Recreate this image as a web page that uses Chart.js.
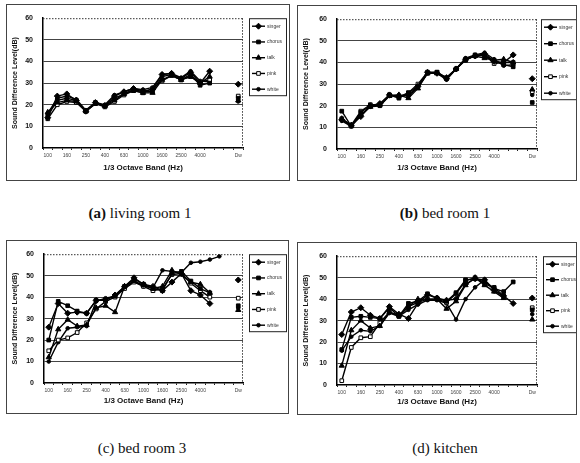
<!DOCTYPE html>
<html><head><meta charset="utf-8">
<script src="https://cdn.jsdelivr.net/npm/chart.js@4.4.0/dist/chart.umd.min.js"></script>
<style>
body{margin:0;background:#fff;width:580px;height:463px;position:relative;overflow:hidden;}
.frame{position:absolute;border:1px solid #444;box-sizing:border-box;}
canvas{position:absolute;}
.cap{position:absolute;font-family:'Liberation Serif','DejaVu Serif',serif;font-size:15px;line-height:20px;text-align:center;width:290px;color:#111;}
.cap b{font-weight:bold;}
</style></head><body>
<div class="frame" style="left:6px;top:4px;width:284px;height:177px"></div>
<div class="frame" style="left:297px;top:5px;width:280px;height:176px"></div>
<div class="frame" style="left:6px;top:240px;width:283px;height:174px"></div>
<div class="frame" style="left:297px;top:242px;width:280px;height:173px"></div>
<canvas id="ca"></canvas><canvas id="cb"></canvas><canvas id="cc"></canvas><canvas id="cd"></canvas>
<div class="cap" style="left:-5px;top:203px"><b>(a)</b> living room 1</div>
<div class="cap" style="left:300px;top:203px"><b>(b)</b> bed room 1</div>
<div class="cap" style="left:-3px;top:438px">(c) bed room 3</div>
<div class="cap" style="left:300px;top:438px">(d) kitchen</div>
<script>
// ---- data ----
const bands = ['100','125','160','200','250','315','400','500','630','800','1000','1250','1600','2000','2500','3150','4000','5000','','','Dw'];
const seriesNames = ['singer','chorus','talk','pink','white'];
const yTicks = [0,10,20,30,40,50,60];

// (a) living room 1
const a1 = [14,24,25,22,17,21,19.5,24,26,27.5,26.5,27,34,34.5,32,35,30,35.5];
const a2 = [15,22,23,22,17,21,19.5,23,25,27,26,26,33,34,31.5,34,29,30];
const a3 = [16.5,21,22,21.5,17,20.5,19.5,22,25,26.5,25.5,25.5,31.5,33.5,31.5,33,30,33];
const a4 = [13.5,20,21.5,21,17,20.5,19,21.5,24.5,26.5,25.5,27.5,31,33.5,31.5,33,30.5,31.5];
const a5 = [16,23,24,22.5,17.5,21,20,24.5,26,27.5,27,28,34,34.5,32.5,35.5,31,30.5];
const aSingle = [29.5,23,22,24,21.5];

// (b) bed room 1
const b1 = [13.5,11,15,20,21,25,24.5,25,29,35.5,35,32.5,37,41.5,43,44,40.5,40,43.5];
const b2 = [17.5,10.5,17,20,20,25,23.5,26,29,35,35.5,32.5,37,41,43.5,43,41,39,38];
const b3 = [14,11,16,19.5,20.5,24.5,25,23.5,28,35,35,33,37,41.5,43,42,41,41.5,40];
const b4 = [14,11,17.5,20.5,20.5,25,24,26,30,35.5,35.5,33,37,41.5,43,43.5,39.5,40,40];
const b5 = [13,10.5,15.5,19.5,20,24.5,25,24.5,28.5,35,35,32,37,42,43.5,44.5,41.5,38.5,39];
const bSingle = [32.5,21.5,27.5,26.5,25];

// (c) bed room 3
const c1 = [26,37,32.5,33,32.5,38.5,38.5,41,45,49,46,45,43,47,51,43,41,37];
const c2 = [20,38,36,33.5,32.5,38.5,39,40.5,45,48.5,46,44,43,51,52,47.5,44,42];
const c3 = [12,25,29.5,26.5,27,35,36,33,45,47.5,45.5,44,45,52.5,50.5,47,46,42];
const c4 = [15,20,21,23.5,28,34.5,38,40,44,47,45,43,44,50.5,51,46.5,43,40];
const c5 = [10,19,25.5,26,26.5,38,39.5,40.5,44.5,47.5,45,44.5,52.5,52,51.5,56,56.5,57.5,59];
const cSingle = [48,36,34,39.5,35];

// (d) kitchen
const d1 = [23.5,34,36,32.5,31,36.5,33,31,38,42,40.5,39.5,40,47,49.5,49,44,41.5,38];
const d2 = [16.5,31.5,32,31.5,31,36,32,38,39,42.5,40.5,39,43,49,49.5,48,45,43.5,48];
const d3 = [9,25.5,30,26.5,27.5,34,32.5,36.5,40,40,40,35.5,39,46.5,50,46.5,43.5,40.5];
const d4 = [2,17.5,22,22.5,29,34,32,36.5,38.5,40,40,38.5,42.5,48.5,50,47,45.5,41.5];
const d5 = [16,22.5,25.5,25,27.5,33.5,32,35,37.5,39.5,39.5,38,30.5,40,45.5,49,44.5,41];
const dSingle = [40.5,35,30.5,36,33];

// ---- styling ----
const markers = [
  {pointStyle:'rectRot',pointRadius:3,bg:'#000'},
  {pointStyle:'rect',pointRadius:2.6,bg:'#000'},
  {pointStyle:'triangle',pointRadius:3,bg:'#000'},
  {pointStyle:'rect',pointRadius:2.6,bg:'#fff'},
  {pointStyle:'circle',pointRadius:1.8,bg:'#000'}
];
const SANS = "'Liberation Sans', Arial, sans-serif";

function buildSeries(vals, single){
  const out = new Array(bands.length).fill(null);
  vals.forEach((v,i)=>{out[i]=v;});
  out[bands.length-1] = single;
  return out;
}

const frameDecor = {
  id:'frameDecor',
  beforeDatasetsDraw(chart){
    const {ctx, chartArea:ca} = chart;
    ctx.save();
    ctx.strokeStyle='#333'; ctx.lineWidth=1; ctx.setLineDash([1.5,1.5]);
    ctx.beginPath();
    ctx.moveTo(ca.left, ca.top+0.5); ctx.lineTo(ca.right, ca.top+0.5);
    ctx.moveTo(ca.right-0.5, ca.top); ctx.lineTo(ca.right-0.5, ca.bottom);
    ctx.stroke();
    ctx.restore();
  },
  afterDraw(chart){
    const o = chart.options.plugins.frameDecor;
    const {ctx, chartArea:ca} = chart;
    const x = ca.right + o.gap, y = ca.top, w = o.w, h = o.h;
    ctx.save();
    ctx.strokeStyle='#222'; ctx.lineWidth=1; ctx.setLineDash([]);
    ctx.strokeRect(x+0.5, y+0.5, w, h);
    ctx.font = '5px '+SANS; ctx.fillStyle='#333'; ctx.textBaseline='middle';
    chart.data.datasets.forEach((ds,i)=>{
      const yy = y + 8 + i*(h-14)/4;
      ctx.strokeStyle='#000'; ctx.lineWidth=1.4;
      ctx.beginPath(); ctx.moveTo(x+3,yy); ctx.lineTo(x+16,yy); ctx.stroke();
      ctx.fillStyle=ds.pointBackgroundColor; ctx.strokeStyle='#000'; ctx.lineWidth=1;
      Chart.helpers.drawPoint(ctx,{pointStyle:ds.pointStyle,radius:ds.pointRadius,rotation:0,borderWidth:1},x+9.5,yy);
      ctx.fillStyle='#333';
      ctx.fillText(ds.label, x+18, yy);
    });
    ctx.restore();
  }
};

function makeChart(id, frame, plot, leg, sets, singles){
  const cv = document.getElementById(id);
  cv.style.left = frame.x+'px'; cv.style.top = frame.y+'px';
  cv.width = frame.w; cv.height = frame.h;
  const padTop = plot.top - frame.y;
  const yW = plot.left - frame.x;
  const padRight = frame.x + frame.w - plot.right;
  const xH = frame.y + frame.h - plot.bottom;
  const datasets = sets.map((vals,i)=>({
    label: seriesNames[i],
    data: buildSeries(vals, singles[i]),
    borderColor:'#000', borderWidth:1.4,
    pointStyle: markers[i].pointStyle, pointRadius: markers[i].pointRadius,
    pointBackgroundColor: markers[i].bg, pointBorderColor:'#000', pointBorderWidth:1,
    spanGaps:false, tension:0
  }));
  new Chart(cv, {
    type:'line',
    data:{labels:bands, datasets},
    options:{
      responsive:false, animation:false, devicePixelRatio:1,
      layout:{padding:{top:padTop,right:padRight,left:0,bottom:0}},
      plugins:{legend:{display:false}, tooltip:{enabled:false},
        frameDecor:{gap:leg.gap,w:leg.w,h:leg.h}},
      scales:{
        x:{
          type:'category', offset:true,
          afterFit:s=>{s.height = xH;},
          grid:{display:true, drawOnChartArea:false, drawTicks:true, tickLength:2, color:'#222', offset:true},
          border:{display:true, color:'#000', width:1.5},
          ticks:{autoSkip:false, maxRotation:0, minRotation:0, padding:3, color:'#444',
            font:{family:SANS,size:5},
            callback:(v,i)=> (i%2===0 || i===bands.length-1) ? bands[i] : ''},
          title:{display:true, text:'1/3 Octave Band (Hz)', color:'#111',
            font:{family:SANS,size:8,weight:'bold'}, padding:{top:0,bottom:7}}
        },
        y:{
          min:0, max:60,
          afterFit:s=>{s.width = yW;},
          afterBuildTicks:s=>{s.ticks = yTicks.map(v=>({value:v}));},
          grid:{color:c=> (c.tick && (c.tick.value===0||c.tick.value===60)) ? 'rgba(0,0,0,0)' : '#444', lineWidth:1, drawTicks:false},
          border:{display:true, color:'#000', width:1.5},
          ticks:{padding:10, color:'#111', font:{family:SANS,size:7,weight:'bold'}},
          title:{display:true, text:'Sound Difference Level(dB)', color:'#111',
            font:{family:SANS,size:7,weight:'bold'}, padding:{top:5,bottom:0}}
        }
      }
    },
    plugins:[frameDecor]
  });
}

makeChart('ca', {x:6,y:4,w:283,h:176}, {left:43,top:15,right:243,bottom:148}, {gap:6,w:37,h:77}, [a1,a2,a3,a4,a5], aSingle);
makeChart('cb', {x:297,y:5,w:279,h:175}, {left:337,top:15,right:537,bottom:149}, {gap:4,w:36,h:80}, [b1,b2,b3,b4,b5], bSingle);
makeChart('cc', {x:6,y:240,w:282,h:173}, {left:44,top:251,right:243,bottom:383}, {gap:6,w:37,h:77}, [c1,c2,c3,c4,c5], cSingle);
makeChart('cd', {x:297,y:242,w:279,h:172}, {left:337,top:253,right:537,bottom:385}, {gap:6,w:35,h:76}, [d1,d2,d3,d4,d5], dSingle);
</script>
</body></html>
